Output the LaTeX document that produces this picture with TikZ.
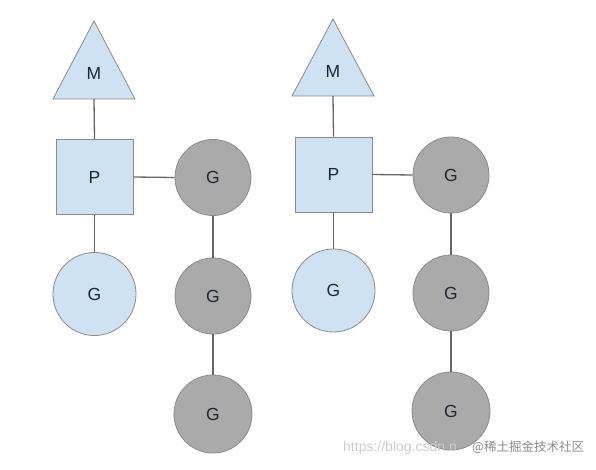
\documentclass[tikz,border=0pt]{standalone}
\usepackage{fontspec}
\setmainfont{Liberation Sans}
\newfontfamily\cjk{Noto Sans CJK SC}
\definecolor{lblue}{HTML}{CFE2F3}
\definecolor{ggray}{HTML}{AAAAAA}
\definecolor{edgegray}{HTML}{8A8A8A}
\definecolor{linegray}{HTML}{666666}
\definecolor{txt}{HTML}{1E2633}
\begin{document}
\begin{tikzpicture}[x=1pt,y=-1pt,
  lbl/.style={text=txt,font=\fontsize{17.5}{20}\selectfont},
  pbox/.style={lbl,draw=edgegray,fill=lblue,line width=0.8pt,minimum width=77pt,minimum height=75pt,inner sep=0pt},
  bgoro/.style={lbl,circle,draw=edgegray,fill=lblue,line width=0.8pt,minimum size=83pt,inner sep=0pt},
  ggoro/.style={lbl,circle,draw=edgegray,fill=ggray,line width=0.8pt,minimum size=76pt,inner sep=0pt},
  tri/.style={draw=edgegray,fill=lblue,line width=0.8pt,line join=miter},
  conn/.style={draw=linegray,line width=1.3pt}]
\useasboundingbox[fill=white] (0,0) rectangle (596,470);
% left group
\draw[tri] (94,21) -- (135,99) -- (53,99) -- cycle;
\node[lbl] (m1) at (94,73) {M};
\coordinate (m1b) at (94,99);
\node[pbox] (p1) at (94.5,177) {P};
\node[bgoro] (b1) at (94.5,294) {G};
\node[ggoro] (g11) at (213,177.5) {G};
\node[ggoro] (g12) at (213,296) {G};
\node[ggoro,minimum size=78pt] (g13) at (213,414) {G};
\draw[conn] (m1b) -- (p1.north);
\draw[conn] (p1.south) -- (b1.north);
\draw[conn] (p1.east) -- (g11.west);
\draw[conn] (g11.south) -- (g12.north);
\draw[conn] (g12.south) -- (g13.north);
% right group
\draw[tri] (333,19) -- (374,96) -- (292,96) -- cycle;
\node[lbl] (m2) at (333,71) {M};
\coordinate (m2b) at (333,96);
\node[pbox] (p2) at (333.5,174.5) {P};
\node[bgoro] (b2) at (333.5,290.5) {G};
\node[ggoro] (g21) at (451,175) {G};
\node[ggoro] (g22) at (451,293) {G};
\node[ggoro,minimum size=78pt] (g23) at (451,411) {G};
\draw[conn] (m2b) -- (p2.north);
\draw[conn] (p2.south) -- (b2.north);
\draw[conn] (p2.east) -- (g21.west);
\draw[conn] (g21.south) -- (g22.north);
\draw[conn] (g22.south) -- (g23.north);
% watermark
\node[anchor=base west,inner sep=0pt,text=black!20,font=\fontsize{14}{16}\selectfont] (wm1) at (343,451) {https://blog.csdn.n};
\node[anchor=base west,inner sep=0pt,text=black!45,font=\cjk\fontsize{12.5}{15}\selectfont] (wm2) at (472,451) {@稀土掘金技术社区};
\end{tikzpicture}
\end{document}
